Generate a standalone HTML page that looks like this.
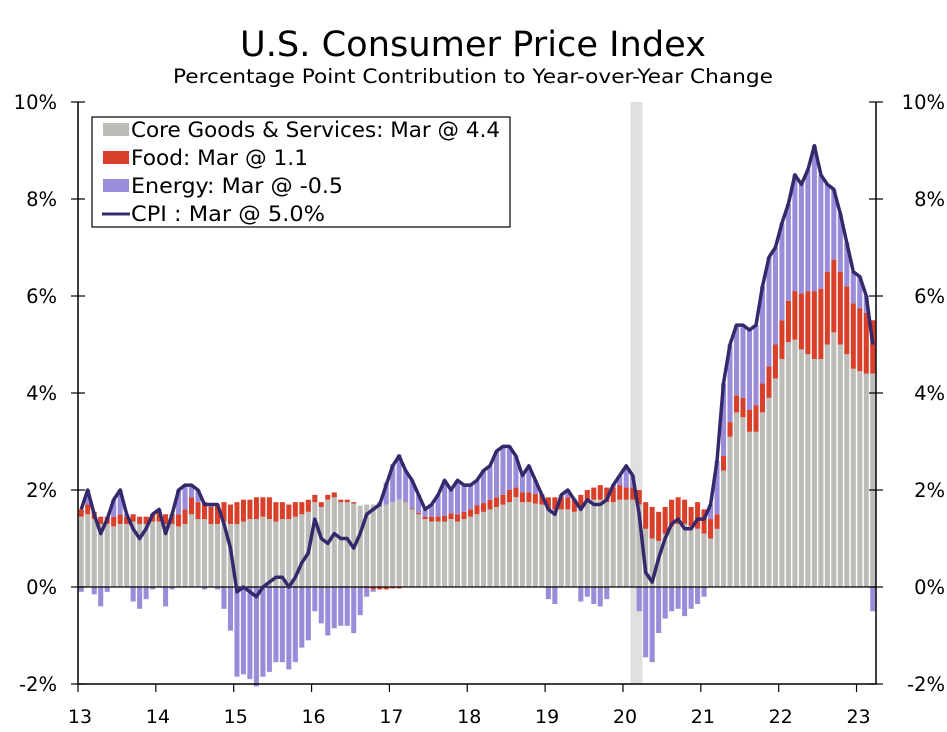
<!DOCTYPE html>
<html><head><meta charset="utf-8">
<style>
html,body{margin:0;padding:0;background:#fff;}
svg text{font-family:"DejaVu Sans","Liberation Sans",sans-serif;fill:#000;}
</style></head>
<body>
<svg id="chart" width="947" height="727" viewBox="0 0 947 727" xmlns="http://www.w3.org/2000/svg">
<text x="473" y="56" font-size="35" text-anchor="middle" textLength="466" lengthAdjust="spacingAndGlyphs">U.S. Consumer Price Index</text>
<text x="473" y="83" font-size="19.5" text-anchor="middle" textLength="600" lengthAdjust="spacingAndGlyphs">Percentage Point Contribution to Year-over-Year Change</text>
<g id="plot"></g>
<g id="legend">
<rect x="92" y="117" width="418" height="110" fill="#fff" stroke="#000" stroke-width="1.2"/>
<rect x="103" y="123" width="26" height="13" fill="#bdbcb8"/>
<text x="131" y="137" font-size="21" textLength="369" lengthAdjust="spacingAndGlyphs">Core Goods &amp; Services: Mar @ 4.4</text>
<rect x="103" y="151" width="26" height="13" fill="#d9402a"/>
<text x="131" y="165" font-size="21" textLength="177" lengthAdjust="spacingAndGlyphs">Food: Mar @ 1.1</text>
<rect x="103" y="179" width="26" height="13" fill="#9b8cdb"/>
<text x="131" y="193" font-size="21" textLength="212" lengthAdjust="spacingAndGlyphs">Energy: Mar @ -0.5</text>
<line x1="102" y1="214" x2="130" y2="214" stroke="#35296b" stroke-width="3"/>
<text x="131" y="221" font-size="21" textLength="194" lengthAdjust="spacingAndGlyphs">CPI : Mar @ 5.0%</text>
</g>
</svg>
<script>
const yearLabels = ["13","14","15","16","17","18","19","20","21","22","23"];
const yTicks = [-2,0,2,4,6,8,10];
const recession = [85,87];
const core = [1.45,1.5,1.4,1.3,1.3,1.25,1.3,1.3,1.35,1.3,1.3,1.35,
1.35,1.3,1.3,1.25,1.3,1.5,1.4,1.4,1.3,1.3,1.35,1.3,
1.3,1.35,1.4,1.4,1.45,1.4,1.35,1.4,1.4,1.45,1.5,1.55,
1.75,1.65,1.8,1.85,1.75,1.75,1.72,1.68,1.7,1.7,1.65,1.7,
1.75,1.8,1.75,1.6,1.5,1.4,1.35,1.35,1.35,1.4,1.35,1.4,
1.45,1.5,1.55,1.6,1.65,1.7,1.75,1.85,1.75,1.75,1.72,1.7,
1.6,1.6,1.6,1.6,1.55,1.65,1.75,1.8,1.8,1.75,1.75,1.8,
1.8,1.8,1.7,1.2,1.0,0.95,1.1,1.25,1.3,1.3,1.25,1.2,
1.1,1.0,1.2,2.4,3.1,3.6,3.5,3.2,3.2,3.6,3.9,4.3,
4.7,5.05,5.1,4.9,4.8,4.7,4.7,5.0,5.25,5.0,4.8,4.5,
4.45,4.4,4.4];
const food = [0.15,0.2,0.15,0.15,0.15,0.2,0.2,0.15,0.15,0.15,0.15,0.15,
0.2,0.2,0.2,0.25,0.3,0.35,0.35,0.35,0.35,0.4,0.4,0.4,
0.45,0.45,0.4,0.45,0.4,0.45,0.4,0.35,0.3,0.3,0.25,0.25,
0.15,0.1,0.1,0.1,0.05,0.05,0.03,0,-0.02,-0.05,-0.05,-0.05,
-0.03,-0.03,0.01,0.02,0.03,0.05,0.1,0.1,0.12,0.12,0.15,0.15,
0.15,0.18,0.18,0.2,0.2,0.2,0.25,0.2,0.2,0.2,0.2,0.2,
0.25,0.25,0.25,0.25,0.25,0.25,0.25,0.25,0.3,0.3,0.3,0.3,
0.25,0.25,0.3,0.55,0.65,0.6,0.55,0.55,0.55,0.5,0.4,0.55,
0.5,0.4,0.3,0.3,0.3,0.35,0.4,0.45,0.55,0.6,0.65,0.7,
0.8,0.85,1.0,1.15,1.3,1.4,1.45,1.5,1.5,1.5,1.4,1.35,
1.3,1.25,1.1];
const energy = [-0.1,0.3,-0.15,-0.4,-0.1,0.35,0.5,0.05,-0.3,-0.45,-0.25,-0.05,
0.05,-0.4,-0.05,0.5,0.5,0.25,0.25,-0.05,0.05,-0.05,-0.45,-0.9,
-1.85,-1.8,-1.9,-2.05,-1.85,-1.75,-1.55,-1.55,-1.7,-1.55,-1.25,-1.1,
-0.5,-0.75,-1.0,-0.85,-0.8,-0.8,-0.95,-0.58,-0.18,-0.05,0.1,0.45,
0.78,0.93,0.64,0.58,0.37,0.15,0.25,0.45,0.73,0.48,0.7,0.55,
0.5,0.52,0.67,0.7,0.95,1.0,0.9,0.65,0.35,0.55,0.28,0.02,
-0.25,-0.35,0.05,0.15,0.02,-0.3,-0.2,-0.35,-0.4,-0.25,0.05,0.2,
0.45,0.25,-0.5,-1.45,-1.55,-0.95,-0.65,-0.5,-0.45,-0.6,-0.45,-0.35,
-0.2,0.3,1.1,1.5,1.6,1.45,1.5,1.65,1.65,2.0,2.25,2.0,
2.0,2.0,2.4,2.25,2.5,3.0,2.35,1.8,1.45,1.2,0.9,0.65,
0.65,0.35,-0.5];
const cpi = [1.6,2.0,1.5,1.1,1.4,1.8,2.0,1.5,1.2,1.0,1.2,1.5,
1.6,1.1,1.5,2.0,2.1,2.1,2.0,1.7,1.7,1.7,1.3,0.8,
-0.1,0.0,-0.1,-0.2,0.0,0.1,0.2,0.2,0.0,0.2,0.5,0.7,
1.4,1.0,0.9,1.1,1.0,1.0,0.8,1.1,1.5,1.6,1.7,2.1,
2.5,2.7,2.4,2.2,1.9,1.6,1.7,1.9,2.2,2.0,2.2,2.1,
2.1,2.2,2.4,2.5,2.8,2.9,2.9,2.7,2.3,2.5,2.2,1.9,
1.6,1.5,1.9,2.0,1.8,1.6,1.8,1.7,1.7,1.8,2.1,2.3,
2.5,2.3,1.5,0.3,0.1,0.6,1.0,1.3,1.4,1.2,1.2,1.4,
1.4,1.7,2.6,4.2,5.0,5.4,5.4,5.3,5.4,6.2,6.8,7.0,
7.5,7.9,8.5,8.3,8.6,9.1,8.5,8.3,8.2,7.7,7.1,6.5,
6.4,6.0,5.0];

const NS="http://www.w3.org/2000/svg";
const L=78,R=876,T=102,B=684,N=123;
const step=(R-L)/N;
function xs(i){return L+(i+0.5)*step;}
function xb(i){return L+i*step;}
function ys(v){return B-(v+2)*(B-T)/12;}
const g=document.getElementById('plot');
function mk(tag,attrs,parent){const e=document.createElementNS(NS,tag);for(const k in attrs)e.setAttribute(k,attrs[k]);(parent||g).appendChild(e);return e;}

const rec=mk('rect',{x:xb(recession[0])+1,y:T,width:xb(recession[1])-xb(recession[0])-1,height:B-T,fill:'#e0e0e0'});



const bw=step*0.78;
for(let i=0;i<N;i++){
  let pos=0,neg=0;
  const parts=[[core[i],'#bdbcb8','core'],[food[i],'#d9402a','food'],[energy[i],'#9b8cdb','energy']];
  for(const [v,c,nm] of parts){
    let y0,y1;
    if(v>=0){y0=pos;y1=pos+v;pos=y1;}else{y0=neg+v;y1=neg;neg=y0;}
    const r=mk('rect',{x:xs(i)-bw/2,y:ys(y1),width:bw,height:Math.max(0,ys(y0)-ys(y1)),fill:c});
    
    
  }
}
const zl=mk('line',{x1:L,x2:R,y1:ys(0),y2:ys(0),stroke:'#000','stroke-width':1.3});



let d='';
for(let i=0;i<N;i++)d+=(i?'L':'M')+xs(i).toFixed(1)+' '+ys(cpi[i]).toFixed(1);
const ln=mk('path',{d:d,fill:'none',stroke:'#35296b','stroke-width':3.5,'stroke-linejoin':'round'});



const ax=mk('path',{d:`M${L} ${T}V${B}H${R}V${T}`,fill:'none',stroke:'#000','stroke-width':1.5});


for(const t of yTicks){
  const y=ys(t);
  const tl=mk('line',{x1:L-7,x2:L+7,y1:y,y2:y,stroke:'#000','stroke-width':1.2});
  
  
  const tr=mk('line',{x1:R-7,x2:R+7,y1:y,y2:y,stroke:'#000','stroke-width':1.2});
  
  
  const a=mk('text',{x:57,y:y+7,'font-size':19.5,'text-anchor':'end'});a.textContent=t+'%';
  
  
  const b=mk('text',{x:945,y:y+7,'font-size':19.5,'text-anchor':'end'});b.textContent=t+'%';
  
  
}
for(let k=0;k<yearLabels.length;k++){
  const x=xb(k*12);
  const tk=mk('line',{x1:x,x2:x,y1:B,y2:B+8,stroke:'#000','stroke-width':1.2});
  
  
  const tx=mk('text',{x:x+2,y:723,'font-size':19,'text-anchor':'middle'});tx.textContent=yearLabels[k];
  
  
}
</script>
</body></html>
